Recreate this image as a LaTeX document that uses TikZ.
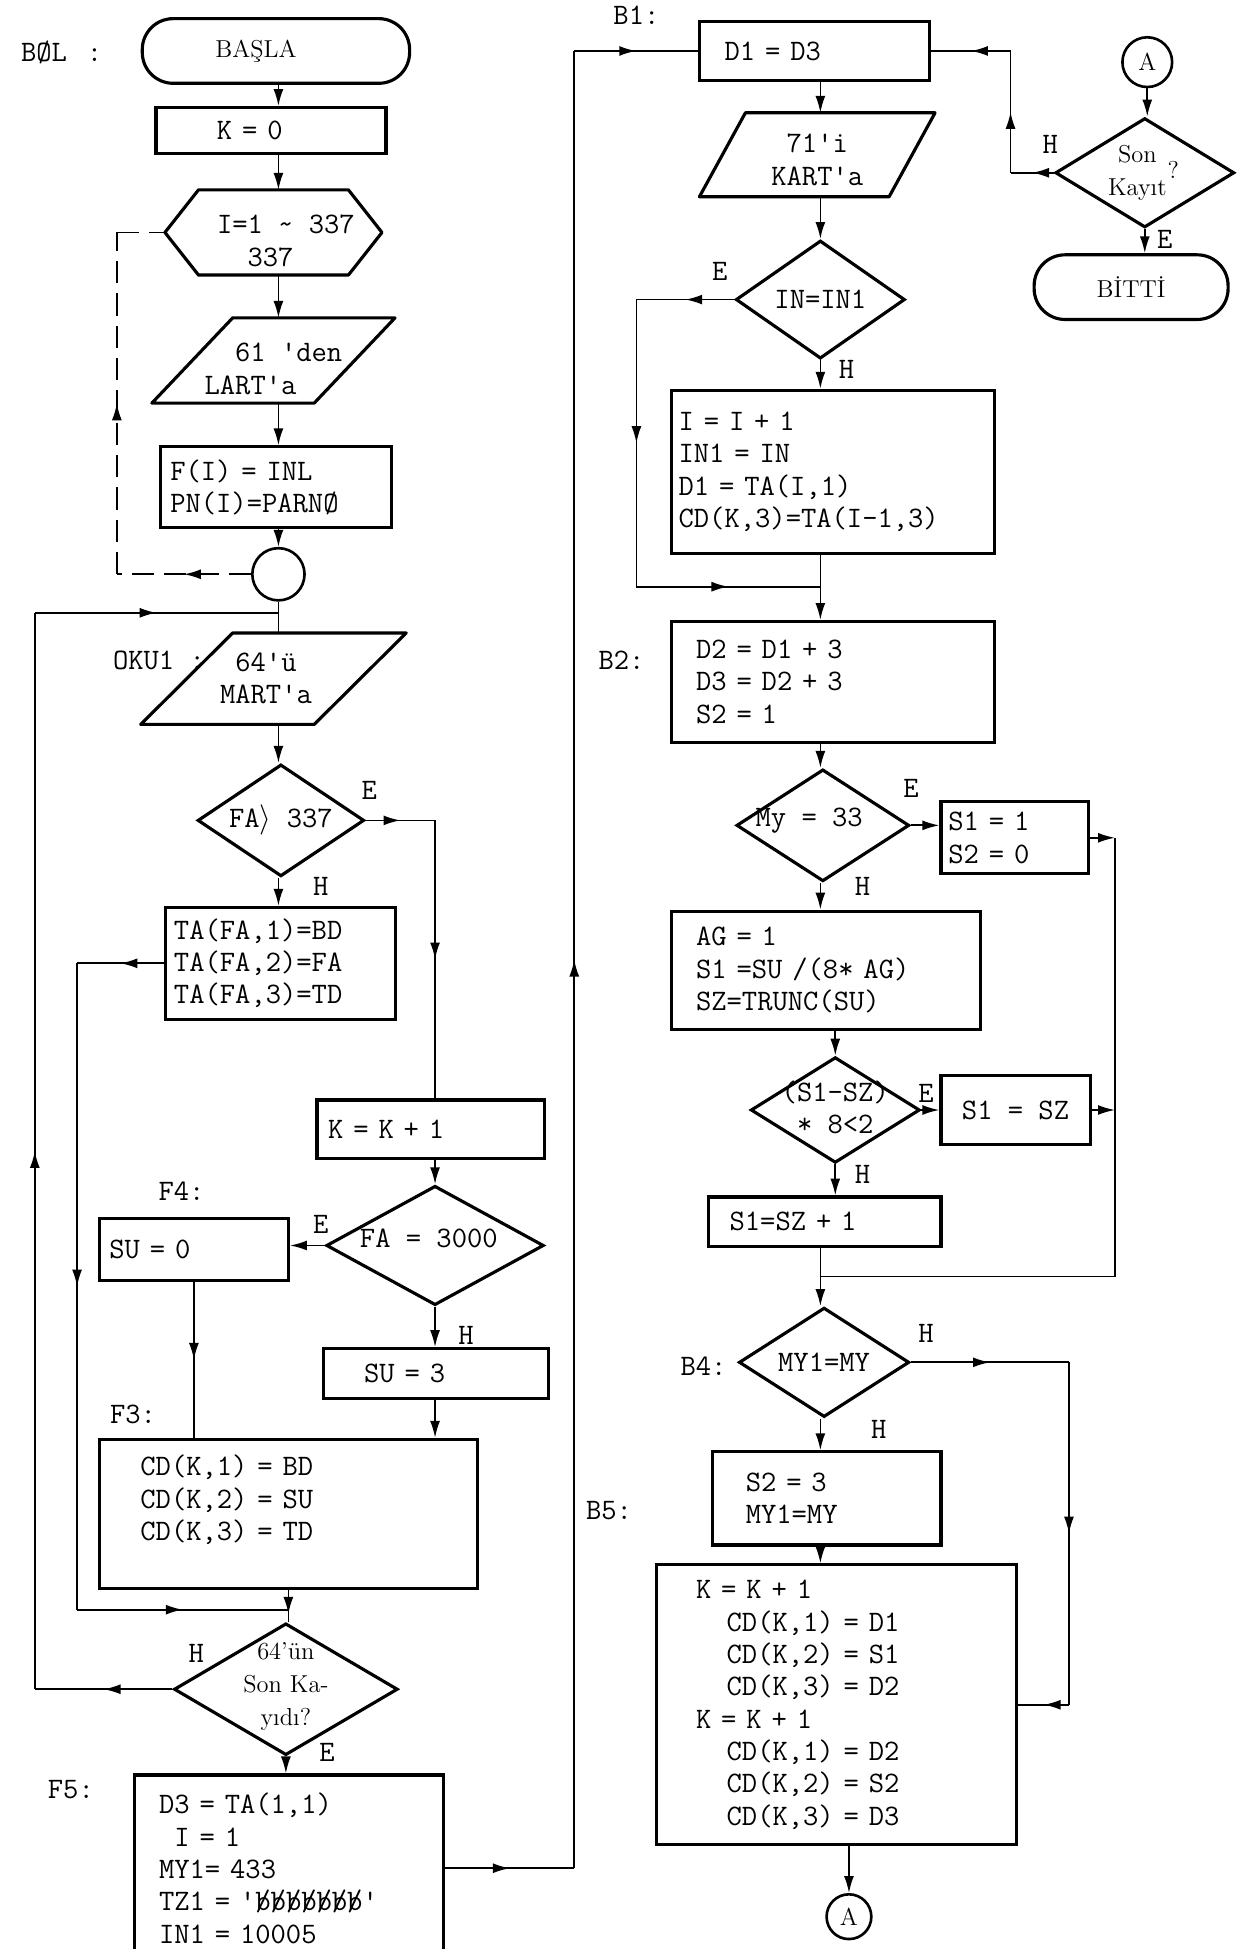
\documentclass[tikz,border=0pt]{standalone}
\usepackage{tikz}
\usepackage{graphicx}
\usetikzlibrary{arrows.meta, positioning, shapes.geometric, decorations.markings}

\newcommand{\chartt}{\fontsize{17}{18.5}\selectfont\ttfamily}
\newcommand{\chartrm}{\fontsize{14}{19}\selectfont\rmfamily}
\newcommand{\emptyb}{\rlap{b}/}

% outlines drawn round a named (invisible) node
\newcommand{\drawio}[2]{\draw[outline] ([xshift=#2]#1.north west) -- (#1.north east) -- ([xshift=-#2]#1.south east) -- (#1.south west) -- cycle;}
\newcommand{\drawhex}[2]{\draw[outline] ([xshift=#2]#1.north west) -- ([xshift=-#2]#1.north east) -- (#1.east) -- ([xshift=-#2]#1.south east) -- ([xshift=#2]#1.south west) -- (#1.west) -- cycle;}

\tikzset{
    every node/.style={font=\chartt},
    outline/.style={line width=1.8pt, line join=round},
    box/.style={draw, rectangle, line width=1.8pt, inner ysep=0pt, align=left},
    term/.style={draw, rectangle, rounded corners=0.62cm, line width=1.8pt, font=\chartrm},
    dec/.style={draw, diamond, line width=1.8pt, inner sep=0pt},
    conn/.style={draw, circle, line width=1.5pt, inner sep=0pt, font=\chartrm},
    io/.style={rectangle, inner sep=0pt},
    flow/.style={line width=1pt},
    arr/.style={flow, ->},
    midarr/.style={flow, postaction={decorate}, decoration={markings, mark=at position #1 with {\arrow{>}}}},
    midarr/.default=0.5,
    dashline/.style={dash pattern=on 0.45cm off 0.2cm},
}

\begin{document}
\begin{tikzpicture}[x=0.025cm, y=-0.025cm, >={Latex[length=3.4mm,width=2mm]}]

    \fill[white] (0,0) rectangle (999,1568);
    \useasboundingbox (0,0) rectangle (999,1568);

    % Guide lines for the connectors
    \coordinate (colL) at (224,0);
    \coordinate (colB) at (232,0);
    \coordinate (colM) at (350,0);
    \coordinate (dashX) at (94,0);
    \coordinate (outX) at (28,0);
    \coordinate (inX) at (62,0);
    \coordinate (upX) at (462,0);
    \coordinate (colR) at (660,0);
    \coordinate (eX) at (512,0);
    \coordinate (mergeX) at (897,0);
    \coordinate (hX) at (860,0);
    \coordinate (sonX) at (813,0);
    \coordinate (topJoin) at (224,493);
    \coordinate (botJoin) at (232,1295);
    \coordinate (eJoin) at (660,472);
    \coordinate (mJoin) at (660,1027);

    % Left column
    \node[anchor=west] (lblBol) at (12,42) {BØL\hspace{0.4cm}:};
    \node[term, minimum width=5.375cm, minimum height=1.3cm] (basla) at (222,41) {BAŞLA\rule{0.8cm}{0pt}};
    \node[box, text width=2.175cm, inner xsep=1.225cm, minimum height=0.925cm] (k0) at (218,105) {K = 0};
    \node[io, minimum width=4.35cm, minimum height=1.7cm, label={[align=left, xshift=0.25cm, yshift=-0.17cm]center:{I=1 \textasciitilde{} 337\\\phantom{I=}337}}] (loopI) at (220,187) {};
    \drawhex{loopI}{0.675cm}
    \node[io, minimum width=4.875cm, minimum height=1.7cm, label={[align=left, yshift=-0.17cm]center:{\phantom{LA}61 'den\\LART'a}}] (in61) at (220,290) {};
    \drawio{in61}{1.625cm}
    \node[box, text width=4.25cm, inner xsep=0.2cm, minimum height=1.625cm] (fbox) at (222,392) {F(I) = INL\\PN(I)=PARNØ};
    \node[conn, minimum size=1.05cm] (conn1) at (224,462) {};
    \node[anchor=west] (lblOku) at (86,531) {OKU1 :};
    \node[io, minimum width=5.325cm, minimum height=1.825cm, label={[align=left, xshift=-0.15cm]center:{\phantom{M}64'ü\\MART'a}}] (in64) at (220,546) {};
    \drawio{in64}{1.85cm}
    \node[dec, minimum width=3.35cm, minimum height=2.25cm, label={center:{FA$\big\rangle$ 337}}] (d337) at (226,660) {};
    \node[box, text width=4.275cm, inner xsep=0.175cm, minimum height=2.25cm] (taBox) at (225.5,775) {TA(FA,1)=BD\\TA(FA,2)=FA\\TA(FA,3)=TD};
    \node[box, text width=4.125cm, inner xsep=0.225cm, minimum height=1.175cm] (kInc) at (346.5,908.5) {K = K + 1};
    \node (lblF4) at (146,958) {F4:};
    \node[dec, minimum width=4.375cm, minimum height=2.4cm, label={[xshift=-0.125cm, yshift=0.15cm]center:{FA = 3000}}] (d3000) at (350,1002) {};
    \node[box, text width=3.4cm, inner xsep=0.2cm, minimum height=1.25cm] (su0) at (156,1005) {SU = 0};
    \node[box, text width=2.875cm, inner xsep=0.825cm, minimum height=1.0cm] (su3) at (350.5,1105) {SU = 3};
    \node (lblF3) at (107,1138) {F3:};
    \node[box, text width=5.95cm, inner xsep=0.825cm, minimum height=3.0cm] (f3Box) at (232,1218) {CD(K,1) = BD\\CD(K,2) = SU\\CD(K,3) = TD\\\mbox{}};
    \node[dec, minimum width=4.5cm, minimum height=2.65cm, label={[font=\chartrm, align=center, yshift=0.05cm]center:{64'ün\\Son Ka-\\yıdı?}}] (dLast) at (230,1359) {};
    \node (lblF5) at (57,1440) {F5:};
    \node[box, text width=5.225cm, inner xsep=0.5cm, minimum height=3.75cm] (f5Box) at (232.5,1503) {D3 = TA(1,1)\\\phantom{D}I = 1\\MY1= 433\\TZ1 = '\emptyb\emptyb\emptyb\emptyb\emptyb\emptyb\emptyb'\\IN1 = 10005};

    % Right column
    \node (lblB1) at (512,12) {B1:};
    \node[box, text width=3.625cm, inner xsep=0.5cm, minimum height=1.2cm] (d13) at (655.5,41) {D1 = D3};
    \node[io, minimum width=4.725cm, minimum height=1.675cm, label={[align=center, yshift=-0.1cm]center:{71'i\\KART'a}}] (in71) at (657.5,124.5) {};
    \drawio{in71}{0.925cm}
    \node[dec, minimum width=3.4cm, minimum height=2.375cm, label={center:{IN=IN1}}] (dIn) at (660,241) {};
    \node[box, text width=6.2cm, inner xsep=0.15cm, minimum height=3.275cm] (incBox) at (670,379.5) {I = I + 1\\IN1 = IN\\D1 = TA(I,1)\\CD(K,3)=TA(I-1,3)};
    \node (lblB2) at (500,531) {B2:};
    \node[box, text width=5.5cm, inner xsep=0.5cm, minimum height=2.425cm] (b2Box) at (670,548.5) {D2 = D1 + 3\\D3 = D2 + 3\\S2 = 1};
    \node[dec, minimum width=3.475cm, minimum height=2.25cm, label={[xshift=-0.275cm, yshift=0.1cm]center:{My = 33}}] (dMy) at (662,664) {};
    \node[box, text width=2.675cm, inner xsep=0.15cm, minimum height=1.45cm] (s10Box) at (816.5,674) {S1 = 1\\S2 = 0};
    \node[box, text width=5.225cm, inner xsep=0.5cm, minimum height=2.375cm] (agBox) at (664.5,780.5) {AG = 1\\S1 =SU /(8* AG)\\SZ=TRUNC(SU)};
    \node[dec, minimum width=3.4cm, minimum height=2.125cm, label={[align=center, yshift=0.05cm]center:{(S1-SZ)\\* 8<2}}] (dS) at (672,893) {};
    \node[box, align=center, minimum width=3.0cm, minimum height=1.4cm] (s1szBox) at (817,893) {S1 = SZ};
    \node[box, text width=3.825cm, inner xsep=0.425cm, minimum height=1.0cm] (szBox) at (663.5,983) {S1=SZ + 1};
    \node (lblB4) at (566,1099) {B4:};
    \node[dec, minimum width=3.425cm, minimum height=2.2cm, label={center:{MY1=MY}}] (dMy1) at (663,1096) {};
    \node (lblB5) at (490,1215) {B5:};
    \node[box, text width=3.25cm, inner xsep=0.675cm, minimum height=1.875cm] (s23Box) at (665,1205.5) {S2 = 3\\MY1=MY};
    \node[box, text width=5.65cm, inner xsep=0.8cm, minimum height=5.625cm] (bigBox) at (673,1371.5) {K = K + 1\\\phantom{KK}CD(K,1) = D1\\\phantom{KK}CD(K,2) = S1\\\phantom{KK}CD(K,3) = D2\\K = K + 1\\\phantom{KK}CD(K,1) = D2\\\phantom{KK}CD(K,2) = S2\\\phantom{KK}CD(K,3) = D3};
    \node[conn, minimum size=0.9cm] (connA2) at (683,1542) {A};

    % Top right: end test
    \node[conn, minimum size=1.0cm] (connA1) at (923,50) {A};
    \node[dec, minimum width=3.6cm, minimum height=2.2cm, label={[font=\chartrm, align=center, xshift=-0.15cm]center:{Son\\Kayıt}}] (dSon) at (921,139) {};
    \node[font=\chartrm] (qmark) at (944,137) {?};
    \node[term, minimum width=3.9cm, minimum height=1.3cm] (bitti) at (910,231) {BİTTİ};

    % Branch letters
    \node (e337) at (297,636) {E};
    \node (h337) at (258,713) {H};
    \node (e3000) at (258,985) {E};
    \node (h3000) at (375,1074) {H};
    \node (hLast) at (158,1330) {H};
    \node (eLast) at (263,1410) {E};
    \node (eIn) at (579,218) {E};
    \node (hIn) at (681,297) {H};
    \node (eMy) at (733,634) {E};
    \node (hMy) at (694,713) {H};
    \node (eS) at (745,880) {E};
    \node (hS) at (694,945) {H};
    \node (hMy1r) at (745,1073) {H};
    \node (hMy1b) at (707,1150) {H};
    \node (hSon) at (845,116) {H};
    \node (eSon) at (937,193) {E};

    % Left column connectors
    \draw[arr] (basla.south -| colL) -- (k0.north -| colL);
    \draw[arr] (k0.south -| colL) -- (loopI.north -| colL);
    \draw[arr] (loopI.south -| colL) -- (in61.north -| colL);
    \draw[arr] (in61.south -| colL) -- (fbox.north -| colL);
    \draw[arr] (fbox.south -| colL) -- (conn1.north);
    \draw[flow] (conn1.south) -- (in64.north -| colL);
    \draw[midarr, dashline] (conn1.west) -- (conn1.west -| dashX);
    \draw[midarr, dashline] (conn1.west -| dashX) -- (loopI.west -| dashX);
    \draw[flow, dashline] (loopI.west -| dashX) -- (loopI.west);
    \draw[arr] (in64.south -| colL) -- (d337.north -| colL);
    \draw[midarr] (d337.east) -- (d337.east -| colM);
    \draw[midarr] (d337.east -| colM) -- (kInc.north -| colM);
    \draw[arr] (d337.south -| colL) -- (taBox.north -| colL);
    \draw[midarr] (taBox.west) -- (taBox.west -| inX);
    \draw[midarr] (taBox.west -| inX) -- (botJoin -| inX);
    \draw[midarr] (botJoin -| inX) -- (botJoin);
    \draw[arr] (kInc.south -| colM) -- (d3000.north);
    \draw[arr] (d3000.west) -- (d3000.west -| su0.east);
    \draw[arr] (d3000.south) -- (d3000.south |- su3.north);
    \draw[midarr] (su0.south) -- (su0.south |- f3Box.north);
    \draw[arr] (su3.south -| d3000.south) -- (f3Box.north -| d3000.south);
    \draw[midarr=0.75] (f3Box.south -| colB) -- (dLast.north -| colB);
    \draw[arr] (dLast.south) -- (dLast.south |- f5Box.north);
    \draw[midarr] (dLast.west) -- (dLast.west -| outX);
    \draw[midarr] (dLast.west -| outX) -- (topJoin -| outX);
    \draw[midarr] (topJoin -| outX) -- (topJoin);
    \draw[midarr] (f5Box.east) -- (f5Box.east -| upX);
    \draw[midarr] (f5Box.east -| upX) -- (d13.west -| upX);
    \draw[midarr] (d13.west -| upX) -- (d13.west);

    % Right column connectors
    \draw[arr] (d13.south -| colR) -- (in71.north -| colR);
    \draw[arr] (in71.south -| colR) -- (dIn.north -| colR);
    \draw[arr] (dIn.south -| colR) -- (incBox.north -| colR);
    \draw[midarr] (dIn.west) -- (dIn.west -| eX);
    \draw[midarr] (dIn.west -| eX) -- (eJoin -| eX);
    \draw[midarr] (eJoin -| eX) -- (eJoin);
    \draw[arr] (incBox.south -| colR) -- (b2Box.north -| colR);
    \draw[arr] (b2Box.south -| colR) -- (dMy.north -| colR);
    \draw[arr] (dMy.east) -- (dMy.east -| s10Box.west);
    \draw[arr] (dMy.south -| colR) -- (agBox.north -| colR);
    \draw[arr] (agBox.south -| dS.north) -- (dS.north);
    \draw[arr] (dS.east) -- (dS.east -| s1szBox.west);
    \draw[arr] (dS.south) -- (dS.south |- szBox.north);
    \draw[arr] (s10Box.east) -- (s10Box.east -| mergeX);
    \draw[arr] (s1szBox.east) -- (s1szBox.east -| mergeX);
    \draw[flow] (s10Box.east -| mergeX) -- (mJoin -| mergeX) -- (mJoin);
    \draw[arr] (szBox.south -| colR) -- (dMy1.north -| colR);
    \draw[arr] (dMy1.south -| colR) -- (s23Box.north -| colR);
    \draw[arr] (s23Box.south -| colR) -- (bigBox.north -| colR);
    \draw[midarr] (dMy1.east) -- (dMy1.east -| hX);
    \draw[midarr] (dMy1.east -| hX) -- (bigBox.east -| hX);
    \draw[midarr] (bigBox.east -| hX) -- (bigBox.east);
    \draw[arr] (bigBox.south -| connA2.north) -- (connA2.north);
    \draw[arr] (connA1.south) -- (connA1.south |- dSon.north);
    \draw[midarr] (dSon.west) -- (dSon.west -| sonX);
    \draw[midarr] (dSon.west -| sonX) -- (d13.east -| sonX);
    \draw[midarr] (d13.east -| sonX) -- (d13.east);
    \draw[arr] (dSon.south) -- (dSon.south |- bitti.north);

\end{tikzpicture}
\end{document}
